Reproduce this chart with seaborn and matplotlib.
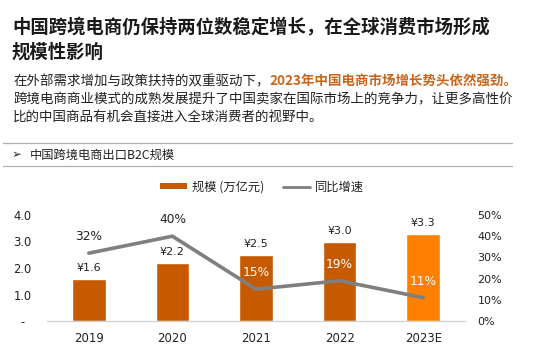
import matplotlib
matplotlib.use('Agg')
import matplotlib.pyplot as plt
import seaborn as sns
import numpy as np
import pandas as pd
from matplotlib.patches import Patch
from matplotlib.lines import Line2D

# 数据
years = ['2019', '2020', '2021', '2022', '2023E']
scale = [1.6, 2.2, 2.5, 3.0, 3.3]          # 规模 (万亿元)
growth = [0.32, 0.40, 0.15, 0.19, 0.11]    # 同比增速
bar_colors = ['#C55A00', '#C55A00', '#C55A00', '#C55A00', '#FF7F00']
growth_label_colors = ['#222222', '#222222', 'white', 'white', 'white']

sns.set_style('white')
plt.rcParams['font.family'] = ['Noto Sans CJK SC', 'DejaVu Sans']
NUM_FONT = ['DejaVu Sans']

W, H = 535, 352
fig = plt.figure(figsize=(W / 100, H / 100), dpi=100)

def fy(px):
    return 1 - px / H

def fx(px):
    return px / W

# 标题
fig.text(fx(12), fy(28), '中国跨境电商仍保持两位数稳定增长，在全球消费市场形成',
         fontsize=13.2, fontweight='bold', color='#1a1a1a', va='center')
fig.text(fx(12), fy(52), '规模性影响',
         fontsize=13.2, fontweight='bold', color='#1a1a1a', va='center')

# 正文
t1 = fig.text(fx(13), fy(81), '在外部需求增加与政策扶持的双重驱动下，',
              fontsize=9.7, color='#222222', va='center')
fig.canvas.draw()
bb = t1.get_window_extent(renderer=fig.canvas.get_renderer())
fig.text(bb.x1 / fig.bbox.width, fy(81), '2023年中国电商市场增长势头依然强劲。',
         fontsize=9.7, color='#C8641C', fontweight='bold', va='center')
fig.text(fx(13), fy(99), '跨境电商商业模式的成熟发展提升了中国卖家在国际市场上的竞争力，让更多高性价',
         fontsize=9.7, color='#222222', va='center')
fig.text(fx(13), fy(117), '比的中国商品有机会直接进入全球消费者的视野中。',
         fontsize=9.7, color='#222222', va='center')

# 分隔线与小标题
for ypx in (142.5, 166):
    fig.add_artist(Line2D([fx(3), fx(512)], [fy(ypx), fy(ypx)],
                          color='#b0b0b0', lw=0.9))
fig.text(fx(12), fy(155), '➢', fontsize=8.5, color='#222222', va='center',
         family=NUM_FONT)
fig.text(fx(30), fy(155), '中国跨境电商出口B2C规模', fontsize=8.8,
         color='#222222', va='center')

# 图表
ax = fig.add_axes([fx(47), fy(321), fx(465) - fx(47), (321 - 215) / H])
df = pd.DataFrame({'year': years, 'scale': scale, 'growth': growth})
sns.barplot(data=df, x='year', y='scale', hue='year', palette=bar_colors,
            width=0.4, legend=False, ax=ax, saturation=1)
ax.set_ylim(0, 4.0)
ax.set_xlim(-0.5, len(years) - 0.5)
ax.set_yticks([0, 1, 2, 3, 4])
ax.set_yticklabels(['-', '1.0', '2.0', '3.0', '4.0'])
ax.set_xlabel('')
ax.set_ylabel('')
for s in ['top', 'left', 'right']:
    ax.spines[s].set_visible(False)
ax.spines['bottom'].set_color('#d0d0d0')
ax.spines['bottom'].set_linewidth(0.9)
ax.tick_params(axis='y', length=0, pad=17.5, labelsize=8.3, labelcolor='#222222')
ax.tick_params(axis='x', length=0, pad=8, labelsize=8.5, labelcolor='#222222')
for lab in ax.get_yticklabels():
    lab.set_ha('center')
    lab.set_family(NUM_FONT)
for lab in ax.get_xticklabels():
    lab.set_family(NUM_FONT)

for c in ax.containers:
    ax.bar_label(c, fmt='¥{:.1f}', padding=4, fontsize=8, color='#222222',
                 family=NUM_FONT)

ax2 = ax.twinx()
sns.lineplot(x=np.arange(len(years)), y=growth, color='#7f7f7f', lw=2.6, ax=ax2)
ax2.set_ylim(0, 0.5)
ax2.set_yticks([0, 0.1, 0.2, 0.3, 0.4, 0.5])
ax2.set_yticklabels(['0%', '10%', '20%', '30%', '40%', '50%'])
ax2.tick_params(axis='y', length=0, pad=9, labelsize=8, labelcolor='#222222')
for lab in ax2.get_yticklabels():
    lab.set_family(NUM_FONT)
for s in ['top', 'left', 'right', 'bottom']:
    ax2.spines[s].set_visible(False)
for i, (g, col) in enumerate(zip(growth, growth_label_colors)):
    ax2.annotate(f'{round(g * 100)}%', xy=(i, g), xytext=(0, 12),
                 textcoords='offset points', ha='center', va='center',
                 fontsize=8.8, color=col, family=NUM_FONT)

# 图例
handles = [Patch(facecolor='#C55A00', edgecolor='none'),
           Line2D([0], [0], color='#7f7f7f', lw=2)]
fig.legend(handles, ['规模 (万亿元)', '同比增速'], ncol=2, frameon=False,
           loc='center', bbox_to_anchor=(fx(262), fy(187)), fontsize=8.8,
           handlelength=2.2, handleheight=0.45, handletextpad=0.4,
           columnspacing=1.6, labelcolor='#222222')

fig.savefig('out.png', dpi=100)
